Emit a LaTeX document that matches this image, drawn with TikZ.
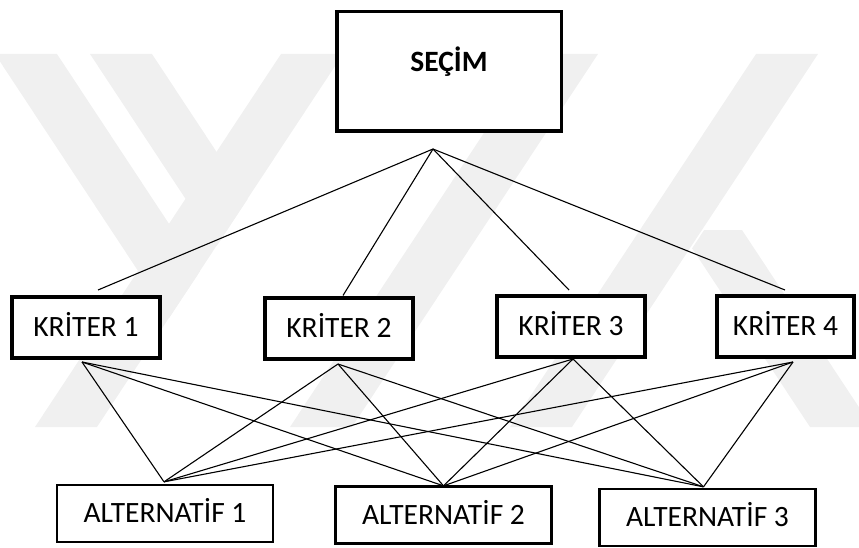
\documentclass[tikz,border=0pt]{standalone}
\usepackage{fontspec}
\setmainfont{Carlito}
\usetikzlibrary{calc}
\begin{document}
\begin{tikzpicture}[x=1pt,y=-1pt,
  wm/.style={fill=black!6},
  conn/.style={line width=1.1pt},
  boxbase/.style={draw, fill=white, inner sep=0pt, text height=18.7pt, text depth=0pt, font=\fontsize{29.5}{34}\selectfont},
  goalbox/.style={boxbase, line width=3.5pt, minimum width=224.5pt, minimum height=119.5pt, text depth=19pt, font=\fontsize{29.5}{34}\selectfont\bfseries},
  critbox/.style={boxbase, line width=4pt, minimum width=148pt, minimum height=61pt},
  altbox/.style={boxbase, line width=2.3pt, minimum width=216pt, minimum height=57pt}]
\useasboundingbox (0,0) rectangle (859,548);
% watermark
\fill[wm] (35,427) -- (97,427) -- (343,54) -- (281,54) -- cycle;
\fill[wm] (290,427) -- (352,427) -- (598,54) -- (536,54) -- cycle;
\fill[wm] (510,427) -- (572,427) -- (818,54) -- (756,54) -- cycle;
\begin{scope}
  \clip (-17,600) -- (379,0) -- (-100,0) -- (-100,600) -- cycle;
  \fill[wm] (-5,54) -- (57,54) -- (303,427) -- (241,427) -- cycle;
  \fill[wm] (90,54) -- (152,54) -- (398,427) -- (336,427) -- cycle;
\end{scope}
\begin{scope}
  \clip (460,600) -- (856,0) -- (1000,0) -- (1000,600) -- cycle;
  \fill[wm] (680,230) -- (742,230) -- (872,427) -- (810,427) -- cycle;
\end{scope}
% nodes
\node[goalbox] (secim) at (449,71.5) {SEÇİM};
\node[critbox] (k1) at (86,327.5) {KRİTER 1};
\node[critbox] (k2) at (339,328) {KRİTER 2};
\node[critbox] (k3) at (571,326.5) {KRİTER 3};
\node[critbox, minimum width=137pt] (k4) at (785.5,326) {KRİTER 4};
\node[altbox] (a1) at (165,513.5) {ALTERNATİF 1};
\node[altbox] (a2) at (443.5,515) {ALTERNATİF 2};
\node[altbox] (a3) at (707.5,517.5) {ALTERNATİF 3};
% connection points
\coordinate (apex) at (433,149);
\coordinate (k1t) at ([xshift=12pt,yshift=5pt]k1.north);
\coordinate (k2t) at ([xshift=4pt]k2.north);
\coordinate (k3t) at ([xshift=-2pt,yshift=4pt]k3.north);
\coordinate (k4t) at ([xshift=-0.5pt,yshift=3.5pt]k4.north);
\coordinate (k1b) at ([xshift=-4pt,yshift=-2pt]k1.south);
\coordinate (k2b) at ([xshift=-1pt,yshift=-3.5pt]k2.south);
\coordinate (k3b) at ([xshift=2pt]k3.south);
\coordinate (k4b) at ([xshift=7.5pt,yshift=-3.5pt]k4.south);
\coordinate (a1t) at ([xshift=-1pt,yshift=2pt]a1.north);
\coordinate (a2t) at ([yshift=-0.5pt]a2.north);
\coordinate (a3t) at ([xshift=-4pt,yshift=1pt]a3.north);
% connectors
\foreach \k in {k1t,k2t,k3t,k4t} \draw[conn] (apex) -- (\k);
\foreach \k in {k1b,k2b,k3b,k4b}
  \foreach \a in {a1t,a2t,a3t}
    \draw[conn] (\k) -- (\a);
\end{tikzpicture}
\end{document}
